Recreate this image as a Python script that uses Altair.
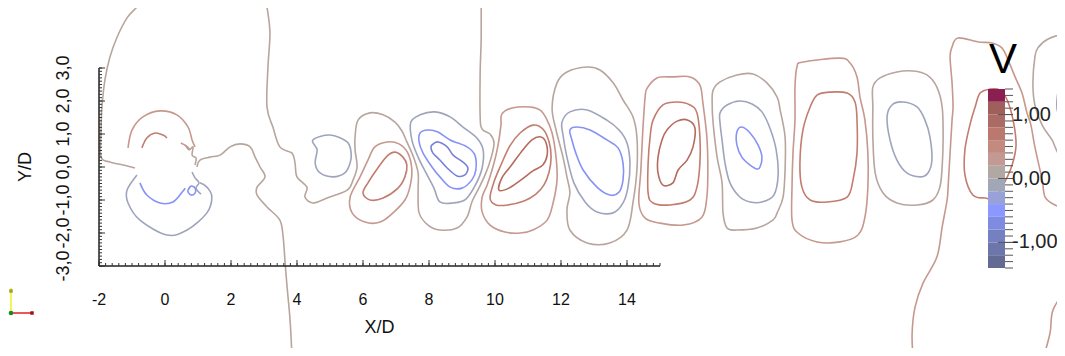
import altair as alt
import pandas as pd

# ---------------- axes / domains ----------------
X_DOMAIN = [-2, 15]
Y_DOMAIN = [-3, 3]
PLOT_W, PLOT_H = 561, 198

X_MAJOR = [-2, 0, 2, 4, 6, 8, 10, 12, 14]
X_LABELS = ["-2", "0", "2", "4", "6", "8", "10", "12", "14"]
Y_MAJOR = [-3, -2, -1, 0, 1, 2, 3]
Y_LABELS = ["-3,0", "-2,0", "-1,0", "0,0", "1,0", "2,0", "3,0"]
X_MINOR = [round(-2 + 0.2 * k, 1) for k in range(86)]
Y_MINOR = [round(-3 + 0.1 * k, 1) for k in range(61)]

# ---------------- contour levels (V) ----------------
LEVEL_NAMES = ["neg75", "neg45", "neg15", "pos10", "pos30", "pos50", "pos75"]
LEVEL_COLORS = ["#7780d8", "#8793f4", "#9fa4bd", "#b8a59e", "#c6988e", "#c27d6f", "#b56b5e"]

# ---------------- contour lines (X/D, Y/D) ----------------
LEFT_ARC = [(-0.70, 5.12), (-0.85, 4.85), (-1.15, 4.52), (-1.45, 3.94), (-1.67, 3.33), (-1.82, 2.64),
            (-1.91, 1.82), (-1.94, 1.03), (-1.94, 0.30), (-1.67, 0.15), (-1.27, 0.06), (-0.91, -0.03)]
WAKE_EDGE = [(3.03, 5.12), (3.09, 4.85), (3.18, 4.06), (3.12, 3.03), (3.09, 1.82), (3.27, 1.21), (3.48, 0.61),
             (3.85, 0.42), (3.94, 0.12), (4.00, -0.30), (4.30, -0.61), (4.24, -0.91), (4.48, -1.09), (4.91, -0.94),
             (5.52, -0.70), (5.70, -0.39), (5.82, 0.00), (5.76, 0.52), (5.76, 0.91), (5.85, 1.42), (6.21, 1.64),
             (6.61, 1.58), (6.97, 1.36), (7.18, 1.09), (7.33, 0.76), (7.52, 0.33), (7.67, -0.18), (7.67, -0.70),
             (7.70, -1.39), (7.97, -1.76), (8.33, -1.91), (8.85, -1.85), (9.15, -1.52), (9.30, -1.06),
             (9.48, -0.70), (9.70, -0.24), (9.88, 0.27), (9.97, 0.73), (9.85, 1.00), (9.61, 1.15), (9.55, 1.52),
             (9.55, 2.85), (9.58, 3.85), (9.58, 5.12)]
CYL_TAIL = [(0.97, 0.00), (1.06, 0.21), (1.36, 0.30), (1.67, 0.36), (1.97, 0.61), (2.27, 0.70), (2.58, 0.61),
            (2.73, 0.30), (2.88, 0.00), (3.03, -0.30), (2.79, -0.61), (2.79, -0.85), (3.09, -1.21), (3.48, -1.61),
            (3.58, -2.12), (3.64, -2.91), (3.70, -3.64), (3.79, -4.64), (3.85, -5.79)]
CYL_RED_OUTER = [(-1.12, 0.58), (-1.00, 1.12), (-0.67, 1.52), (-0.15, 1.70), (0.36, 1.58), (0.70, 1.21),
                 (0.82, 0.82), (0.91, 0.61)]
CYL_RED_INNER = [(-0.70, 0.58), (-0.55, 0.88), (-0.30, 1.03), (-0.06, 0.97), (0.06, 0.88)]
CYL_GB_OUTER = [(-0.85, -0.24), (-1.15, -0.70), (-1.12, -1.09), (-0.76, -1.61), (0.06, -2.06), (0.67, -1.91),
                (1.27, -1.39), (1.42, -0.91), (1.27, -0.61), (1.06, -0.48)]
CYL_BLUE_INNER = [(-0.76, -0.48), (-0.55, -0.85), (-0.15, -1.09), (0.24, -1.06), (0.52, -0.76), (0.61, -0.64)]
CYL_GB_BIT = [(0.82, -0.15), (0.91, -0.33), (1.03, -0.48), (0.94, -0.64), (1.09, -0.82)]
CYL_TAN_BIT = [(0.61, 0.67), (0.73, 0.52), (0.85, 0.61), (0.82, 0.36), (0.94, 0.27), (0.91, 0.06)]
CYL_RED_BIT = [(0.48, 0.73), (0.64, 0.64), (0.76, 0.52)]
CYL_BLUE_LOOP = [(0.70, -0.70), (0.79, -0.58), (0.91, -0.64), (0.91, -0.79), (0.79, -0.85), (0.70, -0.76)]

GB_5 = [(4.48, 0.82), (5.00, 0.97), (5.52, 0.76), (5.64, 0.42), (5.61, 0.12), (5.45, -0.18), (5.09, -0.30),
        (4.70, -0.18), (4.55, 0.12), (4.61, 0.52)]
RED_7_OUTER = [(5.61, -0.91), (5.67, -1.39), (6.06, -1.67), (6.52, -1.67), (6.91, -1.39), (7.27, -1.00),
               (7.42, -0.61), (7.48, -0.09), (7.36, 0.42), (7.09, 0.70), (6.73, 0.76), (6.36, 0.61),
               (6.15, 0.21), (5.91, -0.30)]
RED_7_INNER = [(6.00, -0.79), (6.21, -1.00), (6.61, -0.94), (7.06, -0.64), (7.27, -0.30), (7.33, 0.06),
               (7.21, 0.30), (6.97, 0.45), (6.73, 0.33), (6.45, -0.03), (6.15, -0.48)]
GB_9 = [(7.45, 1.36), (7.73, 1.58), (8.18, 1.67), (8.64, 1.52), (9.03, 1.21), (9.45, 0.88), (9.64, 0.52),
        (9.61, -0.03), (9.42, -0.52), (9.12, -0.97), (8.73, -1.09), (8.33, -1.06), (8.15, -0.64),
        (7.91, -0.18), (7.67, 0.30), (7.48, 0.82)]
BLUE_9 = [(7.73, 1.03), (7.97, 1.12), (8.27, 1.06), (8.64, 0.82), (9.15, 0.61), (9.39, 0.36), (9.42, -0.09),
          (9.30, -0.39), (9.00, -0.64), (8.64, -0.61), (8.33, -0.30), (8.09, 0.00), (7.82, 0.42), (7.70, 0.76)]
DEEP_9 = [(8.09, 0.67), (8.27, 0.76), (8.55, 0.61), (8.73, 0.36), (9.03, 0.15), (9.18, -0.03), (9.09, -0.24),
          (8.85, -0.27), (8.55, -0.03), (8.33, 0.21), (8.12, 0.42), (8.06, 0.58)]
RED_11_OUTER = [(10.21, 1.61), (10.52, 1.79), (11.06, 1.82), (11.36, 1.73), (11.55, 1.48), (11.73, 1.03),
                (11.85, 0.30), (11.88, -0.39), (11.76, -1.09), (11.58, -1.61), (11.15, -1.91), (10.76, -2.00),
                (10.30, -1.97), (9.85, -1.76), (9.61, -1.36), (9.61, -0.91), (9.76, -0.55), (9.91, -0.09),
                (10.03, 0.36), (10.12, 0.82), (10.18, 1.27)]
RED_11_MID = [(9.85, -0.94), (9.97, -0.45), (10.18, 0.06), (10.45, 0.64), (10.76, 1.03), (11.15, 1.27),
              (11.45, 1.15), (11.64, 0.76), (11.70, 0.30), (11.64, -0.15), (11.48, -0.55), (11.24, -0.82),
              (10.88, -1.03), (10.39, -1.15), (10.03, -1.15)]
RED_11_INNER = [(10.12, -0.70), (10.21, -0.33), (10.48, 0.03), (10.79, 0.45), (11.12, 0.82), (11.39, 0.91),
                (11.55, 0.73), (11.58, 0.36), (11.45, 0.06), (11.15, -0.12), (10.79, -0.39), (10.42, -0.64)]
TAN_13 = [(11.73, 1.79), (11.88, 2.55), (12.18, 2.88), (12.79, 3.03), (13.18, 2.94), (13.58, 2.55),
          (13.88, 2.03), (14.18, 1.52), (14.30, 0.91), (14.30, -0.09), (14.18, -1.09), (14.00, -1.91),
          (13.48, -2.30), (12.79, -2.30), (12.27, -1.91), (12.18, -1.30), (12.27, -0.79), (12.18, -0.30),
          (12.06, 0.30), (11.85, 1.12)]
GB_13 = [(12.03, 1.36), (12.27, 1.67), (12.79, 1.73), (13.39, 1.42), (13.76, 1.12), (14.00, 0.73), (14.09, 0.12),
         (14.03, -0.61), (13.88, -1.09), (13.58, -1.39), (13.09, -1.36), (12.73, -1.06), (12.39, -0.48),
         (12.18, 0.30), (12.06, 0.97)]
BLUE_13 = [(12.27, 1.12), (12.48, 1.21), (12.88, 1.12), (13.39, 0.82), (13.73, 0.58), (13.88, 0.12),
           (13.88, -0.39), (13.76, -0.76), (13.48, -0.85), (13.09, -0.61), (12.67, -0.09), (12.45, 0.42),
           (12.33, 0.82)]
RED_15_OUTER = [(14.61, 2.39), (14.91, 2.70), (15.39, 2.73), (15.91, 2.73), (16.21, 2.48), (16.30, 1.94),
                (16.42, 0.91), (16.45, -0.09), (16.42, -0.91), (16.27, -1.52), (15.70, -1.76), (15.00, -1.70),
                (14.55, -1.55), (14.36, -1.09), (14.42, -0.09), (14.48, 1.12), (14.55, 2.12)]
RED_15_MID = [(14.79, 1.42), (15.09, 1.88), (15.52, 1.97), (15.91, 1.88), (16.12, 1.64), (16.21, 0.91),
              (16.21, 0.12), (16.12, -0.61), (15.91, -1.00), (15.30, -1.15), (14.79, -1.09), (14.64, -0.79),
              (14.64, 0.12), (14.70, 0.91)]
RED_15_INNER = [(15.06, 0.82), (15.21, 1.12), (15.52, 1.39), (15.85, 1.42), (16.06, 1.18), (16.00, 0.61),
                (15.82, 0.21), (15.55, -0.09), (15.39, -0.48), (15.09, -0.55), (14.94, -0.18), (14.94, 0.30)]
TAN_18 = [(16.58, 1.94), (16.61, 2.33), (16.82, 2.58), (17.33, 2.79), (17.82, 2.82), (18.24, 2.55),
          (18.55, 2.12), (18.64, 1.73), (18.79, 0.91), (18.79, -0.09), (18.73, -0.91), (18.55, -1.39),
          (18.42, -1.61), (17.94, -1.85), (17.33, -1.91), (17.03, -1.85), (16.91, -1.39), (16.88, -0.48),
          (16.73, 0.30), (16.61, 1.33)]
GB_18 = [(16.82, 1.64), (17.03, 1.88), (17.42, 2.00), (17.79, 1.91), (18.09, 1.67), (18.33, 1.18),
         (18.52, 0.52), (18.58, -0.24), (18.45, -0.85), (18.09, -1.06), (17.73, -1.06), (17.42, -0.91),
         (17.12, -0.48), (16.97, 0.12), (16.88, 0.82), (16.82, 1.33)]
BLUE_18 = [(17.33, 1.06), (17.48, 1.21), (17.73, 1.03), (17.97, 0.67), (18.09, 0.30), (18.03, 0.00),
           (17.94, -0.06), (17.73, 0.06), (17.48, 0.30), (17.33, 0.67)]
RED_20_OUTER = [(19.15, 3.03), (19.33, 3.18), (20.45, 3.30), (20.76, 3.15), (20.97, 2.73), (21.06, 2.12),
                (21.21, 1.42), (21.30, 0.42), (21.30, -0.61), (21.21, -1.52), (21.00, -2.06), (20.45, -2.27),
                (19.76, -2.27), (19.18, -2.00), (19.00, -1.61), (19.00, -0.61), (19.03, 0.42), (19.09, 1.42),
                (19.09, 2.42)]
RED_20_INNER = [(19.55, 1.82), (19.76, 2.18), (20.15, 2.27), (20.67, 2.24), (20.91, 1.97), (20.97, 1.42),
                (20.97, 0.42), (20.85, -0.39), (20.67, -0.91), (20.06, -1.06), (19.55, -1.00), (19.30, -0.61),
                (19.24, 0.12), (19.33, 1.12)]
TAN_22 = [(21.45, 2.42), (21.67, 2.70), (22.18, 2.88), (22.67, 2.91), (23.09, 2.79), (23.39, 2.42),
          (23.55, 1.82), (23.58, 0.91), (23.55, 0.00), (23.48, -0.61), (23.27, -1.00), (22.79, -1.15),
          (22.18, -1.09), (21.76, -0.79), (21.52, -0.18), (21.45, 0.91), (21.45, 1.82)]
GB_22 = [(21.88, 1.52), (22.03, 1.88), (22.36, 1.97), (22.79, 1.82), (23.03, 1.42), (23.18, 0.91),
         (23.24, 0.21), (23.12, -0.18), (22.88, -0.30), (22.48, -0.18), (22.18, 0.21), (21.97, 0.82)]
RED_FAR = [(22.67, -5.79), (22.64, -5.03), (22.73, -4.24), (22.97, -3.52), (23.39, -2.73), (23.55, -1.82),
           (23.70, -1.00), (23.73, -0.61), (23.79, 0.42), (23.85, 1.42), (23.88, 1.82), (23.85, 2.55),
           (23.79, 3.33), (23.85, 3.64), (24.03, 3.91), (24.64, 3.79), (25.06, 3.76), (25.36, 3.61),
           (25.55, 3.24), (25.76, 2.73), (25.97, 2.24), (26.12, 1.64), (26.24, 1.27), (26.36, 0.61),
           (26.58, -0.39), (26.67, -0.91), (26.97, -1.15), (27.33, -1.27)]
RED_25 = [(25.00, 2.36), (24.70, 2.24), (24.55, 1.82), (24.39, 1.27), (24.24, 0.52), (24.24, -0.24),
          (24.48, -0.85), (24.85, -0.94), (25.15, -0.94), (25.45, -0.45), (25.67, 0.06), (25.79, 0.67),
          (25.70, 1.42), (25.52, 2.03), (25.30, 2.33)]
TAN_FAR = [(27.33, 4.06), (26.76, 3.88), (26.45, 3.61), (26.36, 3.33), (26.30, 2.55), (26.36, 1.88),
           (26.58, 1.27), (26.88, 0.82), (27.06, 0.42), (27.33, 0.15)]
GB_FAR = [(27.33, 2.79), (27.12, 2.48), (27.03, 2.03), (27.06, 1.64), (27.33, 1.30)]
RED_FAR_LOW = [(27.33, -3.67), (26.91, -4.33), (26.82, -5.03), (26.61, -5.79)]

CONTOURS = [
    ("left_arc", "pos10", False, LEFT_ARC), ("wake_edge", "pos10", False, WAKE_EDGE),
    ("cyl_tail", "pos10", False, CYL_TAIL), ("cyl_red_outer", "pos30", False, CYL_RED_OUTER),
    ("cyl_red_inner", "pos50", False, CYL_RED_INNER), ("cyl_gb_outer", "neg15", False, CYL_GB_OUTER),
    ("cyl_blue_inner", "neg45", False, CYL_BLUE_INNER), ("cyl_gb_bit", "neg15", False, CYL_GB_BIT),
    ("cyl_tan_bit", "pos10", False, CYL_TAN_BIT), ("cyl_red_bit", "pos30", False, CYL_RED_BIT),
    ("cyl_blue_loop", "neg45", True, CYL_BLUE_LOOP),
    ("gb5", "neg15", True, GB_5), ("red7o", "pos30", True, RED_7_OUTER), ("red7i", "pos50", True, RED_7_INNER),
    ("gb9", "neg15", True, GB_9), ("blue9", "neg45", True, BLUE_9), ("deep9", "neg75", True, DEEP_9),
    ("red11o", "pos30", True, RED_11_OUTER), ("red11m", "pos50", True, RED_11_MID),
    ("red11i", "pos75", True, RED_11_INNER), ("tan13", "pos10", True, TAN_13), ("gb13", "neg15", True, GB_13),
    ("blue13", "neg45", True, BLUE_13), ("red15o", "pos30", True, RED_15_OUTER),
    ("red15m", "pos50", True, RED_15_MID), ("red15i", "pos75", True, RED_15_INNER),
    ("tan18", "pos10", True, TAN_18), ("gb18", "neg15", True, GB_18), ("blue18", "neg45", True, BLUE_18),
    ("red20o", "pos30", True, RED_20_OUTER), ("red20i", "pos50", True, RED_20_INNER),
    ("tan22", "pos10", True, TAN_22), ("gb22", "neg15", True, GB_22),
    ("red_far", "pos30", False, RED_FAR), ("red25", "pos50", True, RED_25),
    ("tan_far", "pos10", False, TAN_FAR), ("gb_far", "neg15", False, GB_FAR),
    ("red_far_low", "pos30", False, RED_FAR_LOW),
]

# ---------------- colour bar ----------------
BAND_LO = [-1.4, -1.2, -1.0, -0.8, -0.6, -0.4, -0.2, 0.0, 0.2, 0.4, 0.6, 0.8, 1.0, 1.2]
BAND_COLORS = ["#636a94", "#6c76ab", "#7480c0", "#7f8be0", "#8a98ff", "#98a2d8", "#a2a7b6",
               "#b2a8a3", "#c39a93", "#c38a80", "#ba786e", "#ab6a63", "#9f605c", "#8c1f52"]
CB_DOMAIN = [-1.4, 1.4]
CB_MAJOR = [-1.0, 0.0, 1.0]
CB_LABELS = ["-1,00", "0,00", "1,00"]
CB_MINOR = [round(-1.4 + 0.1 * k, 1) for k in range(29)]

FONT = "Liberation Sans"

rows = []
for name, level, closed, pts in CONTOURS:
    for i, (x, y) in enumerate(pts):
        rows.append({"cid": name, "level": level, "closed": closed, "i": i, "x": x, "y": y})
df = pd.DataFrame(rows)

xs = alt.Scale(domain=X_DOMAIN, nice=False, zero=False)
ys = alt.Scale(domain=Y_DOMAIN, nice=False, zero=False)
cs = alt.Scale(domain=LEVEL_NAMES, range=LEVEL_COLORS)
vs = alt.Scale(domain=CB_DOMAIN, range=[200, 21], nice=False, zero=False)


def contour_layer(closed):
    sub = df[df["closed"] == closed]
    return alt.Chart(sub).mark_line(
        strokeWidth=1.6, interpolate="cardinal-closed" if closed else "cardinal"
    ).encode(
        x=alt.X("x:Q", scale=xs, axis=None),
        y=alt.Y("y:Q", scale=ys, axis=None),
        color=alt.Color("level:N", scale=cs, legend=None),
        detail="cid:N",
        order="i:Q",
    )


one = pd.DataFrame({"a": [0]})

axis_x_line = alt.Chart(one).mark_rule(color="#222", strokeWidth=1.5).encode(
    x=alt.value(0), x2=alt.value(PLOT_W), y=alt.value(PLOT_H))
axis_y_line = alt.Chart(one).mark_rule(color="#222", strokeWidth=1.5).encode(
    x=alt.value(0), y=alt.value(0), y2=alt.value(PLOT_H))

x_minor = alt.Chart(pd.DataFrame({"v": X_MINOR})).mark_rule(color="#333", strokeWidth=1).encode(
    x=alt.X("v:Q", scale=xs, axis=None), y=alt.value(PLOT_H), y2=alt.value(PLOT_H - 3))
x_major = alt.Chart(pd.DataFrame({"v": X_MAJOR})).mark_rule(color="#333", strokeWidth=1).encode(
    x=alt.X("v:Q", scale=xs, axis=None), y=alt.value(PLOT_H), y2=alt.value(PLOT_H - 6))
y_minor = alt.Chart(pd.DataFrame({"v": Y_MINOR})).mark_rule(color="#333", strokeWidth=1).encode(
    y=alt.Y("v:Q", scale=ys, axis=None), x=alt.value(0), x2=alt.value(3))
y_major = alt.Chart(pd.DataFrame({"v": Y_MAJOR})).mark_rule(color="#333", strokeWidth=1).encode(
    y=alt.Y("v:Q", scale=ys, axis=None), x=alt.value(0), x2=alt.value(6))

x_labels = alt.Chart(pd.DataFrame({"v": X_MAJOR, "t": X_LABELS})).mark_text(
    font=FONT, fontSize=16, color="#111", baseline="alphabetic", align="center"
).encode(x=alt.X("v:Q", scale=xs, axis=None), y=alt.value(237), text="t:N")
y_labels = alt.Chart(pd.DataFrame({"v": Y_MAJOR, "t": Y_LABELS})).mark_text(
    font=FONT, fontSize=18, color="#111", baseline="middle", align="center", angle=270
).encode(y=alt.Y("v:Q", scale=ys, axis=None), x=alt.value(-35), text="t:N")

x_title = alt.Chart(pd.DataFrame({"t": ["X/D"]})).mark_text(
    font=FONT, fontSize=18, color="#111", baseline="alphabetic", align="center"
).encode(x=alt.value(PLOT_W / 2), y=alt.value(265), text="t:N")
y_title = alt.Chart(pd.DataFrame({"t": ["Y/D"]})).mark_text(
    font=FONT, fontSize=18, color="#111", baseline="middle", align="center", angle=270
).encode(x=alt.value(-73), y=alt.value(PLOT_H / 2), text="t:N")

bands = pd.DataFrame({"lo": BAND_LO, "hi": [round(b + 0.2, 1) for b in BAND_LO], "c": BAND_COLORS})
cb_rects = alt.Chart(bands).mark_rect().encode(
    x=alt.value(889), x2=alt.value(906),
    y=alt.Y("lo:Q", scale=vs, axis=None), y2="hi:Q",
    color=alt.Color("c:N", scale=None, legend=None))
cb_minor = alt.Chart(pd.DataFrame({"v": CB_MINOR})).mark_rule(color="#555", strokeWidth=1).encode(
    y=alt.Y("v:Q", scale=vs, axis=None), x=alt.value(906), x2=alt.value(914))
cb_major = alt.Chart(pd.DataFrame({"v": CB_MAJOR})).mark_rule(color="#555", strokeWidth=1).encode(
    y=alt.Y("v:Q", scale=vs, axis=None), x=alt.value(899), x2=alt.value(914))
cb_labels = alt.Chart(pd.DataFrame({"v": CB_MAJOR, "t": CB_LABELS})).mark_text(
    font=FONT, fontSize=20, color="#222", baseline="middle", align="left"
).encode(y=alt.Y("v:Q", scale=vs, axis=None), x=alt.value(913), text="t:N")
cb_title = alt.Chart(pd.DataFrame({"t": ["V"]})).mark_text(
    font=FONT, fontSize=42, color="#000", baseline="alphabetic", align="center"
).encode(x=alt.value(904), y=alt.value(5), text="t:N")

# orientation triad (bottom-left)
triad_y = alt.Chart(one).mark_rule(color="#f0f020", strokeWidth=1.5).encode(
    x=alt.value(-88), y=alt.value(220), y2=alt.value(245))
triad_x = alt.Chart(one).mark_rule(color="#e02020", strokeWidth=1.5).encode(
    x=alt.value(-88), x2=alt.value(-66), y=alt.value(245))
triad_o = alt.Chart(one).mark_point(filled=True, color="#1a8a1a", size=22, opacity=1).encode(
    x=alt.value(-88), y=alt.value(245))
triad_yt = alt.Chart(one).mark_square(color="#a0a020", size=12, opacity=1).encode(
    x=alt.value(-88), y=alt.value(223))
triad_xt = alt.Chart(one).mark_square(color="#a01010", size=12, opacity=1).encode(
    x=alt.value(-67), y=alt.value(245))

chart = alt.layer(
    contour_layer(False), contour_layer(True),
    axis_x_line, axis_y_line, x_minor, x_major, y_minor, y_major,
    x_labels, y_labels, x_title, y_title,
    cb_rects, cb_minor, cb_major, cb_labels, cb_title,
    triad_y, triad_x, triad_o, triad_yt, triad_xt,
).resolve_scale(
    y="independent", color="independent"
).properties(
    width=PLOT_W, height=PLOT_H,
    autosize=alt.AutoSizeParams(type="none"),
    padding={"left": 91, "top": 60, "right": 397, "bottom": 82},
    background="white",
).configure_view(stroke=None)

chart.save("out.html", embed_options={"renderer": "svg", "actions": False})
